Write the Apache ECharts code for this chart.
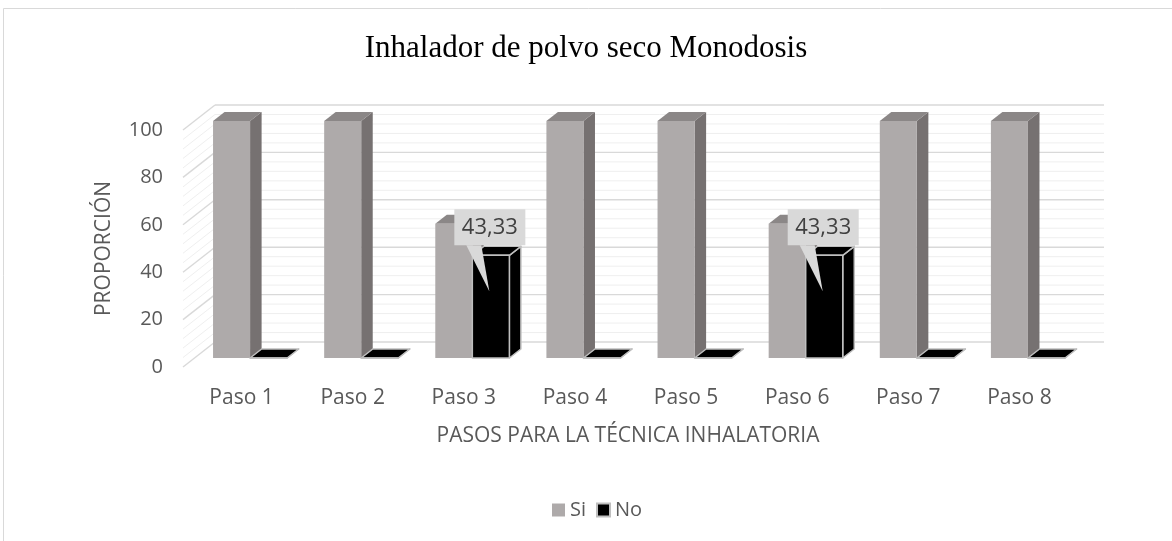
<!DOCTYPE html>
<html><head><meta charset="utf-8">
<script src="https://cdn.jsdelivr.net/npm/echarts@6/dist/echarts.min.js"></script>
<style>html,body{margin:0;padding:0;background:#fff}#c{width:1172px;height:541px}</style>
</head><body><div id="c"></div>
<script>
const categories = ['Paso 1','Paso 2','Paso 3','Paso 4','Paso 5','Paso 6','Paso 7','Paso 8'];
const siValues = [100, 100, 56.67, 100, 100, 56.67, 100, 100];
const noValues = [0, 0, 43.33, 0, 0, 43.33, 0, 0];
const yTicks = [0, 20, 40, 60, 80, 100];
const minorStep = 4;

const FONT = '"Open Sans", Lato, sans-serif';
const DX = 32, DY = -25;      // full depth of the 3D box
const BF = 0.36, BD = 0.36;   // bar front offset & bar depth (fractions)

function fmt(v){ return v.toFixed(2).replace('.', ','); }

function wallRender(params, api){
  const bw = api.size([1,0])[0];
  const xL = api.coord([0,0])[0] - bw/2;
  const xR = api.coord([categories.length-1,0])[0] + bw/2;
  const vmax = yTicks[yTicks.length-1];
  const children = [];
  for (let v = 0; v <= vmax + 1e-9; v += minorStep){
    const y = api.coord([0, v])[1];
    const major = (v % 20) === 0;
    const style = {stroke: major ? '#d9d9d9' : '#efefef', lineWidth: major ? 1.4 : 1, fill: null};
    children.push({type:'line', shape:{x1:xL+DX, y1:y+DY, x2:xR+DX, y2:y+DY}, style});
    children.push({type:'line', shape:{x1:xL, y1:y, x2:xL+DX, y2:y+DY}, style});
  }
  return {type:'group', children};
}

function barRender(slot, front, side, top, stroke, withLabel){
  return function(params, api){
    const i = api.value(0), v = api.value(1);
    const p0 = api.coord([i, 0]), p1 = api.coord([i, v]);
    const bw = api.size([1,0])[0];
    const w = bw/3;
    const ox = DX*BF, oy = DY*BF, dx = DX*BD, dy = DY*BD;
    const xl = p0[0] + slot*w + ox, xr = xl + w;
    const yb = p0[1] + oy, yt = p1[1] + oy;
    const st = {stroke: stroke, lineWidth: stroke ? 1.5 : 0, lineJoin:'round'};
    const children = [
      {type:'polygon', shape:{points:[[xr,yt],[xr+dx,yt+dy],[xr+dx,yb+dy],[xr,yb]]}, style:Object.assign({fill:side}, st)},
      {type:'polygon', shape:{points:[[xl,yt],[xl+dx,yt+dy],[xr+dx,yt+dy],[xr,yt]]}, style:Object.assign({fill:top}, st)},
      {type:'rect', shape:{x:xl, y:yt, width:w, height:yb-yt}, style:Object.assign({fill:front}, st)}
    ];
    if (withLabel && v > 0){
      children.push({type:'polygon', z2:10, shape:{points:[[xl-6,yt-10],[xl+9,yt-10],[xl+17,yt+36]]}, style:{fill:'#d9d9d9'}});
      children.push({type:'rect', z2:10, shape:{x:xl-18, y:yt-46, width:71, height:36}, style:{fill:'#d9d9d9'}});
      children.push({type:'text', z2:11, style:{text:fmt(v), x:xl+17.5, y:yt-28, align:'center', verticalAlign:'middle', font:'22px ' + FONT, fill:'#404040'}});
    }
    return {type:'group', children};
  };
}

const chart = echarts.init(document.getElementById('c'));
chart.setOption({
  animation: false,
  backgroundColor: '#fff',
  title: {
    text: 'Inhalador de polvo seco Monodosis',
    left: 'center', top: 28,
    textStyle: {fontFamily: '"Liberation Serif", "Times New Roman", serif', fontSize: 31, fontWeight: 'normal', color: '#000'}
  },
  legend: {
    data: ['Si','No'], left: 547, top: 495, icon: 'rect', itemWidth: 13, itemHeight: 13, itemGap: 10,
    textStyle: {fontFamily: FONT, fontSize: 20, color: '#595959'}
  },
  grid: {left: 183, right: 100, top: 130, bottom: 174},
  xAxis: {
    type: 'category', data: categories,
    axisLine: {show: false}, axisTick: {show: false},
    axisLabel: {margin: 21, padding: [0, 0, 0, 6], fontFamily: FONT, fontSize: 21, color: '#595959'}
  },
  yAxis: {
    type: 'value', min: 0, max: yTicks[yTicks.length-1], interval: 20,
    splitLine: {show: false}, axisLine: {show: false}, axisTick: {show: false},
    axisLabel: {margin: 20, padding: [5, 0, 0, 0], fontFamily: FONT, fontSize: 20, color: '#595959'},
    name: 'PROPORCIÓN', nameLocation: 'middle', nameGap: 68,
    nameTextStyle: {fontFamily: FONT, fontSize: 21, color: '#595959'}
  },
  graphic: [
    {type:'rect', shape:{x:3.5, y:8.5, width:1250, height:700}, style:{fill:null, stroke:'#d9d9d9', lineWidth:1}, silent:true},
    {type:'text', style:{text:'PASOS PARA LA TÉCNICA INHALATORIA', x:628, y:436, font:'21px ' + FONT, fill:'#595959', align:'center', verticalAlign:'middle'}, silent:true}
  ],
  series: [
    {type:'custom', name:'walls', silent:true, renderItem: wallRender, data: [[0,0]], z: 1},
    {type:'custom', name:'Si', renderItem: barRender(-1, '#aeaaaa', '#767171', '#8b8787', null, false),
      itemStyle:{color:'#aeaaaa'}, data: siValues.map((v,i)=>[i,v]), z: 2},
    {type:'custom', name:'No', renderItem: barRender(0, '#000000', '#000000', '#000000', '#bfbfbf', true),
      itemStyle:{color:'#000000', borderColor:'#bfbfbf', borderWidth:1.5}, data: noValues.map((v,i)=>[i,v]), z: 3}
  ]
});
</script></body></html>
